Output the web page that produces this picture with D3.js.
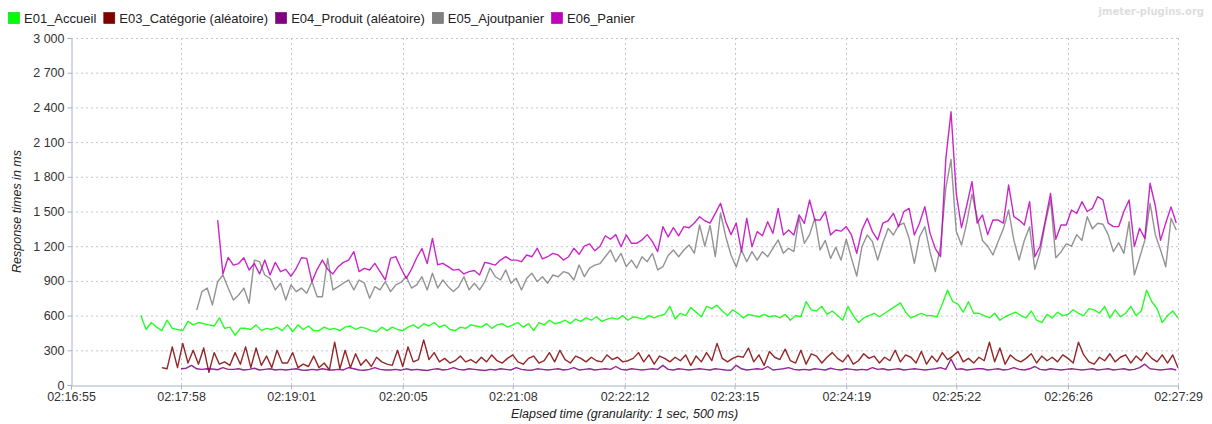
<!DOCTYPE html>
<html>
<head>
<meta charset="utf-8">
<script src="https://cdn.jsdelivr.net/npm/d3@7"></script>
<style>
	body { margin: 0; background: #fff; }
	svg { display: block; font-family: "Liberation Sans", Arial, sans-serif; }
</style>
</head>
<body>
<svg id="vis" width="1212" height="424"></svg>
<script>
// Series names and colors, in drawing order
const seriesNames = ["E01_Accueil", "E03_Catégorie (aléatoire)", "E04_Produit (aléatoire)", "E05_Ajoutpanier", "E06_Panier"];
const seriesColors = ["#00ff00", "#800000", "#800080", "#808080", "#c000c0"];

// first sample of each series, in seconds after 02:16:55, one sample every 3 s
const seriesStart = [40, 52, 63, 72, 84];
const stepSeconds = 3;

// x tick labels, and y ticks (ms)
const timeLabels = ["02:16:55", "02:17:58", "02:19:01", "02:20:05", "02:21:08", "02:22:12", "02:23:15", "02:24:19", "02:25:22", "02:26:26", "02:27:29"];
const yTicks = [0, 300, 600, 900, 1200, 1500, 1800, 2100, 2400, 2700, 3000];

// response times in ms
const accueil = [
	600, 480, 540, 500, 470, 560, 490, 480, 470, 550,
	520, 540, 530, 520, 510, 580, 490, 500, 430, 490,
	490, 480, 520, 470, 490, 480, 500, 470, 520, 460,
	520, 480, 510, 470, 470, 500, 480, 490, 470, 500,
	510, 480, 500, 490, 470, 460, 500, 470, 500, 480,
	470, 500, 520, 490, 530, 510, 540, 500, 520, 480,
	470, 500, 490, 520, 510, 500, 530, 490, 520, 530,
	500, 520, 540, 500, 530, 470, 540, 520, 560, 530,
	540, 560, 530, 570, 550, 580, 560, 590, 550, 570,
	580, 570, 600, 560, 590, 580, 570, 600, 580, 600,
	610, 680, 570, 620, 600, 670, 630, 590, 680, 660,
	690, 640, 600, 650, 620, 580, 610, 600, 590, 610,
	590, 600, 580, 610, 560, 600, 590, 720, 650, 640,
	680, 610, 640, 600, 560, 680, 600, 540, 580, 600,
	620, 590, 620, 650, 680, 710, 630, 580, 600, 620,
	600, 600, 590, 700, 820, 720, 700, 630, 720, 620,
	620, 600, 580, 620, 560, 590, 610, 630, 600, 580,
	640, 560, 540, 610, 580, 630, 600, 610, 650, 620,
	600, 660, 650, 620, 680, 580, 650, 590, 620, 680,
	600, 640, 820, 720, 660, 540, 600, 640, 580
];

const categorie = [
	150, 140, 330, 150, 360, 190, 300, 180, 320, 110,
	280, 180, 200, 170, 280, 180, 330, 150, 320, 170,
	250, 150, 300, 190, 190, 280, 150, 180, 160, 250,
	150, 190, 130, 370, 140, 300, 150, 270, 170, 220,
	160, 240, 200, 180, 170, 300, 160, 330, 200, 220,
	390, 220, 280, 200, 230, 190, 210, 250, 200, 220,
	190, 240, 200, 260, 210, 190, 230, 260, 200, 180,
	230, 250, 190, 210, 280, 200, 300, 220, 190, 250,
	230, 200, 240, 210, 200, 260, 220, 240, 200, 210,
	230, 280, 200, 260, 180, 250, 230, 200, 240, 210,
	260, 170, 250, 200, 280, 210, 360, 230, 200, 230,
	250, 240, 320, 200, 260, 170, 290, 240, 220, 310,
	210, 190, 300, 180, 270, 250, 190, 240, 280, 230,
	200, 260, 180, 210, 270, 230, 250, 190, 240, 210,
	300, 200, 260, 240, 190, 290, 180, 250, 200, 280,
	220, 250, 290, 200, 230, 190, 240, 210, 370, 200,
	320, 180, 260, 220, 200, 230, 270, 190, 250, 210,
	240, 200, 260, 230, 190, 370, 260, 200, 180, 240,
	210, 270, 200, 240, 260, 190, 250, 210, 280, 230,
	200, 260, 190, 260, 150
];

const produit = [
	140, 145, 170, 140, 135, 140, 138, 132, 150, 135,
	135, 140, 130, 135, 145, 130, 135, 140, 130, 135,
	130, 135, 140, 130, 128, 135, 130, 140, 132, 130,
	135, 130, 150, 140, 130, 128, 135, 150, 135, 130,
	130, 135, 128, 140, 130, 135, 130, 125, 135, 140,
	130, 135, 150, 135, 130, 140, 135, 130, 125, 135,
	130, 140, 135, 130, 150, 135, 130, 128, 140, 135,
	130, 135, 140, 130, 135, 150, 130, 135, 140, 130,
	135, 140, 135, 160, 135, 130, 140, 135, 130, 135,
	140, 135, 170, 135, 130, 140, 135, 130, 135, 140,
	135, 130, 140, 135, 130, 128, 170, 140, 130, 135,
	140, 135, 160, 130, 135, 140, 150, 135, 130, 135,
	130, 140, 135, 130, 145, 135, 130, 140, 135, 130,
	135, 130, 150, 135, 140, 130, 135, 140, 130, 135,
	140, 135, 130, 135, 140, 150, 135, 225, 135, 140,
	130, 135, 140, 140, 130, 135, 140, 130, 135, 150,
	135, 130, 140, 160, 135, 130, 140, 135, 130, 135,
	140, 135, 130, 135, 140, 130, 135, 140, 130, 135,
	140, 130, 135, 150, 180, 140, 135, 130, 135, 140,
	130
];

const ajoutpanier = [
	648, 807, 838, 692, 893, 951, 838, 735, 778, 838,
	706, 1080, 1066, 951, 922, 822, 880, 735, 865, 807,
	838, 793, 893, 763, 763, 1095, 822, 850, 880, 908,
	822, 908, 880, 750, 850, 822, 893, 807, 865, 887,
	936, 838, 865, 936, 822, 966, 838, 908, 850, 808,
	850, 936, 822, 880, 822, 893, 1011, 936, 908, 995,
	880, 922, 822, 922, 966, 893, 936, 880, 951, 936,
	980, 966, 908, 1037, 936, 1011, 1037, 1050, 1109, 1167,
	1066, 1138, 1023, 1080, 1011, 1109, 1066, 1138, 995, 1023,
	1120, 1167, 1109, 1167, 1210, 1140, 1383, 1200, 1380, 1109,
	1487, 1282, 1124, 1020, 1167, 1066, 1153, 1080, 1153, 1109,
	1182, 1254, 1138, 1182, 1153, 1450, 1225, 1300, 1440, 1167,
	1250, 1095, 1190, 1080, 1260, 1095, 942, 1196, 1297, 1239,
	1080, 1230, 1354, 1297, 1380, 1400, 1268, 1052, 1282, 1369,
	1150, 980, 1200, 1700, 1950, 1330, 1210, 1400, 1650, 1450,
	1250, 1200, 1124, 1240, 1350, 1513, 1250, 1081, 1250, 1369,
	1000, 1150, 1400, 1600, 1100, 1150, 1220, 1200, 1300, 1250,
	1455, 1350, 1398, 1390, 1300, 1153, 1230, 1138, 1412, 951,
	1100, 1250, 1571, 1300, 1167, 1023, 1441, 1340
];

const panier = [
	1426, 960, 1103, 1037, 1050, 1100, 994, 1050, 960, 1080,
	951, 1060, 980, 1000, 940, 1009, 1100, 1095, 893, 1000,
	1080, 1000, 960, 1023, 1060, 1080, 1153, 980, 1009, 994,
	1052, 980, 908, 1095, 1110, 1009, 922, 1000, 1100, 1180,
	1050, 1268, 1040, 1052, 1023, 993, 1000, 960, 980, 990,
	951, 1060, 1050, 1037, 1080, 1110, 1080, 1080, 1066, 1124,
	1109, 1182, 1090, 1109, 1138, 1124, 1080, 1109, 1182, 1130,
	1200, 1220, 1160, 1200, 1290, 1260, 1300, 1196, 1297, 1225,
	1225, 1254, 1300, 1239, 1153, 1369, 1280, 1360, 1290, 1369,
	1360, 1400, 1455, 1420, 1400, 1484, 1571, 1412, 1300, 1400,
	1153, 1441, 1196, 1326, 1290, 1412, 1310, 1527, 1297, 1340,
	1297, 1470, 1398, 1599, 1426, 1426, 1499, 1297, 1340, 1330,
	1369, 1297, 1138, 1340, 1441, 1326, 1254, 1400, 1420, 1484,
	1369, 1499, 1527, 1297, 1400, 1542, 1311, 1180, 1109, 1950,
	2363, 1657, 1360, 1550, 1758, 1400, 1470, 1300, 1426, 1426,
	1400, 1729, 1455, 1426, 1383, 1585, 1109, 1200, 1420, 1657,
	1260, 1383, 1383, 1513, 1484, 1585, 1500, 1527, 1628, 1600,
	1400, 1369, 1369, 1500, 1600, 1196, 1355, 1268, 1744, 1550,
	1250, 1400, 1540, 1400
];

const seriesValues = [accueil, categorie, produit, ajoutpanier, panier];

// Chart layout
const plot = { left: 71, right: 1178, top: 38, bottom: 385 };

const svg = d3.select("svg#vis");

// seconds since the first tick label
const parseTime = d3.timeParse("%H:%M:%S");
const t0 = parseTime(timeLabels[0]);
const tickSeconds = timeLabels.map(l => (parseTime(l) - t0) / 1000);

const x = d3.scaleLinear()
	.domain([0, tickSeconds[tickSeconds.length - 1]])
	.range([plot.left, plot.right]);

const y = d3.scaleLinear()
	.domain([0, 3000])
	.range([plot.bottom, plot.top]);

// french style thousands: "3 000"
const yFormat = d3.formatLocale({ decimal: ",", thousands: " ", grouping: [3], currency: ["", ""] }).format(",d");

// grid
const grid = svg.append("g").attr("class", "grid");

grid.selectAll("line.hgrid")
	.data(yTicks.filter(d => d > 0))
	.enter()
	.append("line")
	.attr("class", "hgrid")
	.attr("x1", plot.left)
	.attr("x2", plot.right)
	.attr("y1", d => y(d) + 0.5)
	.attr("y2", d => y(d) + 0.5)
	.attr("stroke", "#c3c6d6")
	.attr("stroke-dasharray", "2,3");

grid.selectAll("line.vgrid")
	.data(tickSeconds.slice(1))
	.enter()
	.append("line")
	.attr("class", "vgrid")
	.attr("x1", d => Math.round(x(d)) + 0.5)
	.attr("x2", d => Math.round(x(d)) + 0.5)
	.attr("y1", plot.top)
	.attr("y2", plot.bottom)
	.attr("stroke", "#c3c6d6")
	.attr("stroke-dasharray", "2,3");

// axes
const xAxis = d3.axisBottom(x)
	.tickValues(tickSeconds)
	.tickFormat((d, i) => timeLabels[i])
	.tickSize(4)
	.tickPadding(3);

const yAxis = d3.axisLeft(y)
	.tickValues(yTicks)
	.tickFormat(yFormat)
	.tickSize(4)
	.tickPadding(3);

const gx = svg.append("g")
	.attr("transform", translate(0, plot.bottom + 0.5))
	.call(xAxis);

const gy = svg.append("g")
	.attr("transform", translate(plot.left + 0.5, 0))
	.call(yAxis);

[gx, gy].forEach(function(g) {
	g.select(".domain").attr("stroke", "#a9b2c8");
	g.selectAll(".tick line").attr("stroke", "#a9b2c8");
	g.selectAll(".tick text")
		.attr("fill", "#333")
		.style("font-size", "12.5px")
		.style("font-family", "'Liberation Sans', Arial, sans-serif");
});

// lines, clipped to the plot
svg.append("clipPath")
	.attr("id", "plotclip")
	.append("rect")
	.attr("x", plot.left)
	.attr("y", 0)
	.attr("width", plot.right - plot.left + 1)
	.attr("height", plot.bottom);

const line = d3.line()
	.x(d => x(d.t))
	.y(d => y(d.v));

const lines = svg.append("g").attr("clip-path", "url(#plotclip)");

seriesValues.forEach(function(values, k) {
	const pts = values.map((v, i) => ({ t: seriesStart[k] + i * stepSeconds, v: v }));
	lines.append("path")
		.datum(pts)
		.attr("fill", "none")
		.attr("stroke", seriesColors[k])
		.attr("stroke-opacity", 0.85)
		.attr("stroke-width", 1.4)
		.attr("stroke-linejoin", "round")
		.attr("d", line);
});

// axis titles
svg.append("text")
	.attr("transform", translate(21, (plot.top + plot.bottom) / 2) + " rotate(-90)")
	.attr("text-anchor", "middle")
	.style("font-size", "12.5px")
	.style("font-style", "italic")
	.attr("fill", "#222")
	.text("Response times in ms");

svg.append("text")
	.attr("x", (plot.left + plot.right) / 2)
	.attr("y", 418)
	.attr("text-anchor", "middle")
	.style("font-size", "12.5px")
	.style("font-style", "italic")
	.attr("fill", "#222")
	.text("Elapsed time (granularity: 1 sec, 500 ms)");

// legend
const legend = svg.append("g").attr("class", "legend");
let lx = 8;
seriesNames.forEach(function(name, k) {
	legend.append("rect")
		.attr("x", lx + 0.5)
		.attr("y", 12.5)
		.attr("width", 11)
		.attr("height", 11)
		.attr("fill", seriesColors[k])
		.attr("stroke", d3.color(seriesColors[k]).darker(0.6))
		.attr("stroke-width", 0.6);
	const txt = legend.append("text")
		.attr("x", lx + 16)
		.attr("y", 22.5)
		.style("font-size", "13px")
		.attr("fill", "#222")
		.text(name);
	lx += 16 + txt.node().getComputedTextLength() + 7;
});

// watermark
svg.append("text")
	.attr("x", 1204)
	.attr("y", 15)
	.attr("text-anchor", "end")
	.style("font-size", "10px")
	.style("font-weight", "bold")
	.style("font-family", "'DejaVu Sans', sans-serif")
	.attr("fill", "#dedede")
	.text("jmeter-plugins.org");

function translate(x, y) {
	return "translate(" + x + "," + y + ")";
}
</script>
</body>
</html>
